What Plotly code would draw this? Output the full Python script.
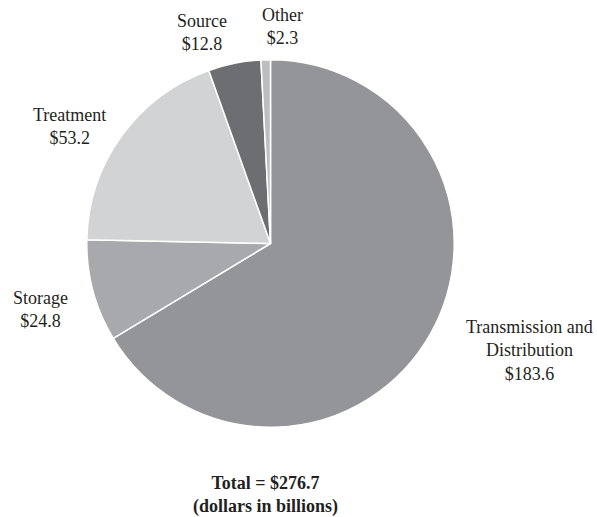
import plotly.graph_objects as go

categories = ["Transmission and Distribution", "Storage", "Treatment", "Source", "Other"]
values = [183.6, 24.8, 53.2, 12.8, 2.3]
label_lines = ["Transmission and<br>Distribution", "Storage", "Treatment", "Source", "Other"]
total_value = 276.7

colors = ["#939598", "#a7a9ac", "#d1d3d4", "#6d6e71", "#bcbec0"]
W, H = 597, 517
# label centers in pixels
label_pos = [(529, 350), (40, 309), (69.5, 126.5), (202, 33), (282, 27)]

fig = go.Figure(go.Pie(
    labels=categories,
    values=values,
    sort=False,
    direction="clockwise",
    rotation=0,
    textinfo="none",
    hoverinfo="label+value",
    marker=dict(colors=colors, line=dict(color="white", width=1.5)),
    domain=dict(x=[86.8 / W, 454.2 / W], y=[1 - 427.2 / H, 1 - 59.8 / H]),
    showlegend=False,
))

font = dict(family="Liberation Serif, Times New Roman, serif", size=18, color="#231f20")
annotations = []
for lab, val, (px, py) in zip(label_lines, values, label_pos):
    annotations.append(dict(
        x=px / W, y=1 - py / H, xref="paper", yref="paper",
        text=f"{lab}<br>${val:.1f}", showarrow=False,
        xanchor="center", yanchor="middle", align="center", font=font,
    ))
annotations.append(dict(
    x=265 / W, y=1 - 494.5 / H, xref="paper", yref="paper",
    text=f"<b>Total = ${total_value:.1f}</b><br><b>(dollars in billions)</b>",
    showarrow=False, xanchor="center", yanchor="middle", align="center", font=font,
))

fig.update_layout(
    width=W, height=H,
    margin=dict(l=0, r=0, t=0, b=0),
    paper_bgcolor="white", plot_bgcolor="white",
    annotations=annotations,
)
fig.write_html(
    "out.html",
    config={"displayModeBar": False},
    post_script="document.body.style.margin='0';document.body.style.padding='0';document.body.style.overflow='hidden';",
)
